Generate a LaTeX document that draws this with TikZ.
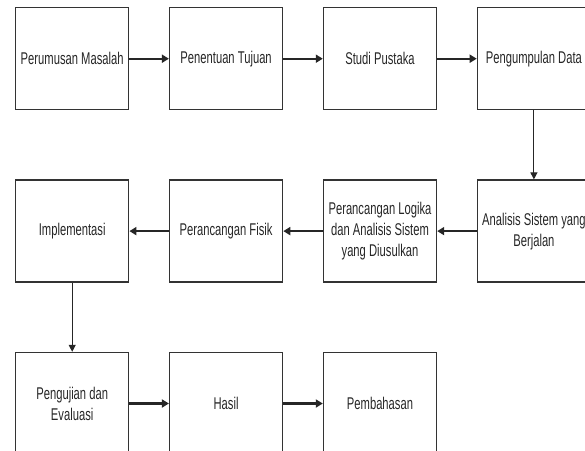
\documentclass[tikz,border=0pt]{standalone}
\usepackage{fontspec}
\setmainfont{Liberation Sans}[FakeStretch=0.66]
\usetikzlibrary{positioning,arrows.meta}
\begin{document}
\begin{tikzpicture}[x=1pt, y=1pt, node distance = 69pt and 39.5pt,
    stepbox/.style = {draw=black!80, line width=1.4pt, minimum width=113pt,
      minimum height=102pt, inner sep=1pt, align=center, text=black!85,
      font=\fontsize{17}{21}\selectfont},
    flow/.style = {-{Triangle[length=7pt,width=8pt]}, line width=2.2pt, draw=black!85},
    drop/.style = {-{Triangle[length=7pt,width=7pt]}, line width=1.1pt, draw=black!85}]
  \useasboundingbox (0,0) rectangle (585,-450);
  \clip (0,0) rectangle (585,-450);
  % first row
  \node[stepbox, anchor=north west] (rumusan) at (15,-7) {Perumusan Masalah};
  \node[stepbox, right=of rumusan] (tujuan) {Penentuan Tujuan};
  \node[stepbox, right=of tujuan] (pustaka) {Studi Pustaka};
  \node[stepbox, right=of pustaka] (data) {Pengumpulan Data};
  % second row
  \node[stepbox, below=of data] (berjalan) {Analisis Sistem yang\\Berjalan};
  \node[stepbox, left=of berjalan] (logika) {Perancangan Logika\\dan Analisis Sistem\\yang Diusulkan};
  \node[stepbox, left=of logika] (fisik) {Perancangan Fisik};
  \node[stepbox, left=of fisik] (implementasi) {Implementasi};
  % third row
  \node[stepbox, below=of implementasi] (pengujian) {Pengujian dan\\Evaluasi};
  \node[stepbox, right=of pengujian] (hasil) {Hasil};
  \node[stepbox, right=of hasil] (pembahasan) {Pembahasan};
  % connectors
  \draw[flow] (rumusan) -- (tujuan);
  \draw[flow] (tujuan) -- (pustaka);
  \draw[flow] (pustaka) -- (data);
  \draw[drop] (data) -- (berjalan);
  \draw[flow] (berjalan) -- (logika);
  \draw[flow] (logika) -- (fisik);
  \draw[flow] (fisik) -- (implementasi);
  \draw[drop] (implementasi) -- (pengujian);
  \draw[flow] (pengujian) -- (hasil);
  \draw[flow] (hasil) -- (pembahasan);
\end{tikzpicture}
\end{document}
